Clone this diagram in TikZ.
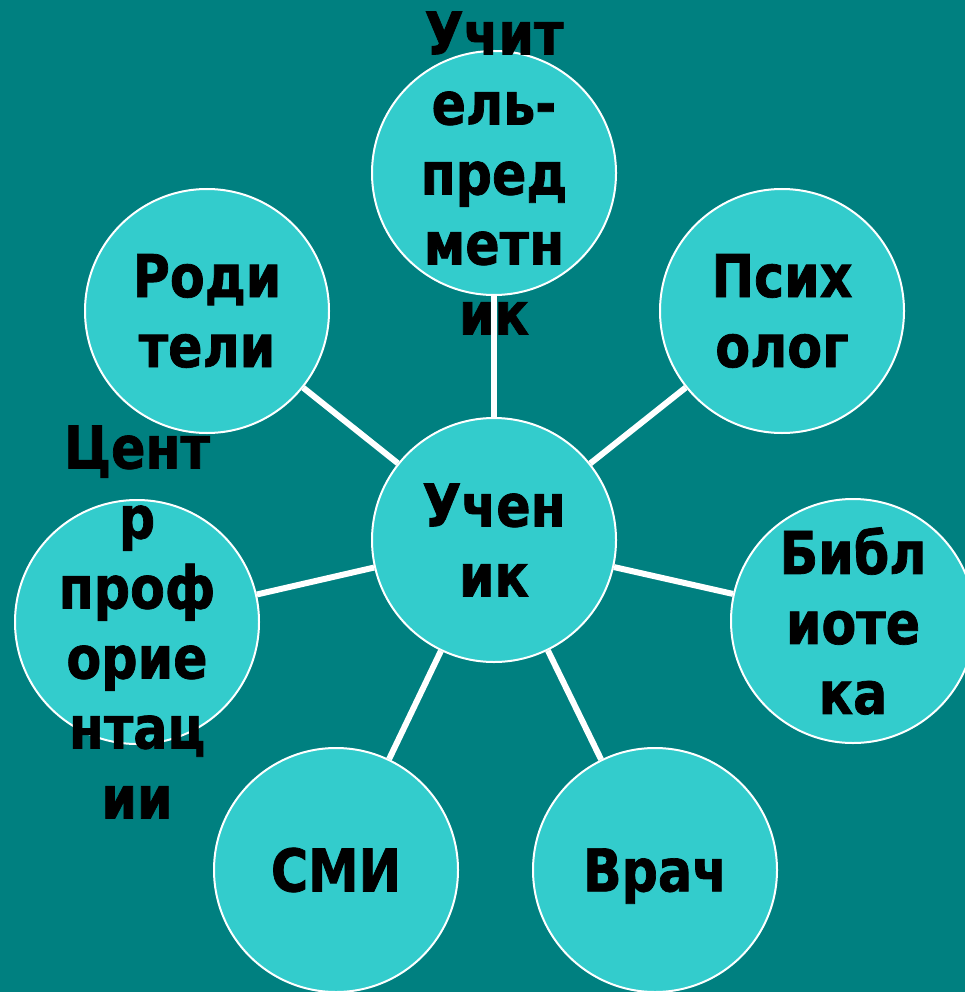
\documentclass[tikz,border=0pt]{standalone}
\usepackage{fontspec}
\newfontfamily\lblfont{DejaVu Sans Bold}[FakeStretch=0.86,FakeBold=1.2]
\definecolor{bgteal}{RGB}{0,128,128}
\definecolor{cyanfill}{RGB}{51,204,204}
\begin{document}
\begin{tikzpicture}[x=1pt,y=-1pt,
  bubble/.style={circle,draw=white,line width=2pt,fill=cyanfill,minimum size=244pt,inner sep=0pt},
  link/.style={draw=white,line width=6pt},
  lbl/.style={align=center,font=\lblfont\fontsize{59}{70}\selectfont,text=black,inner sep=0pt}]
\fill[bgteal] (0,0) rectangle (965,992);
\useasboundingbox (0,0) rectangle (965,992);
% circles
\node[bubble] (c0) at (494,540) {};
\node[bubble] (c1) at (494,173) {};
\node[bubble] (c2) at (207,311) {};
\node[bubble] (c3) at (782,311) {};
\node[bubble] (c4) at (853,621) {};
\node[bubble] (c5) at (655,870) {};
\node[bubble] (c6) at (336,870) {};
\node[bubble] (c7) at (137,622) {};
% connectors
\draw[link] (c0) -- (c1);
\draw[link] (c0) -- (c2);
\draw[link] (c0) -- (c3);
\draw[link] (c0) -- (c4);
\draw[link] (c0) -- (c5);
\draw[link] (c0) -- (c6);
\draw[link] (c0) -- (c7);
% labels
\node[lbl] (t0) at (c0.center) {Учен\\ик};
\node[lbl] (t1) at (c1.center) {Учит\\ель-\\пред\\метн\\ик};
\node[lbl] (t2) at (c2.center) {Роди\\тели};
\node[lbl] (t3) at (c3.center) {Псих\\олог};
\node[lbl] (t4) at (c4.center) {Библ\\иоте\\ка};
\node[lbl,yshift=-6pt] (t5) at (c5.center) {Врач};
\node[lbl] (t6) at (c6.center) {СМИ};
\node[lbl] (t7) at (c7.center) {Цент\\р\\проф\\орие\\нтац\\ии};
\end{tikzpicture}
\end{document}
